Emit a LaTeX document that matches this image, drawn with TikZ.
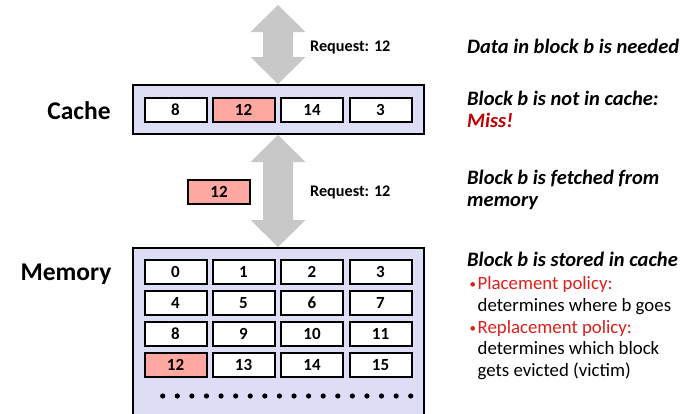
\documentclass[tikz,border=0pt]{standalone}
\usepackage{fontspec}
\setmainfont{Carlito}
\definecolor{boxfill}{RGB}{221,221,245}
\definecolor{hitred}{RGB}{255,168,162}
\definecolor{arrowgray}{RGB}{200,200,200}
\definecolor{polred}{RGB}{222,32,26}
\definecolor{missred}{RGB}{192,0,0}
\tikzset{
  cell/.style={draw, line width=2pt, fill=white, minimum width=62pt, minimum height=24pt, inner sep=0pt, font=\bfseries\fontsize{17}{17}\selectfont},
  hitcell/.style={cell, fill=hitred},
  container/.style={draw, line width=2pt, fill=boxfill},
  biglabel/.style={font=\bfseries\fontsize{25.5}{25.5}\selectfont},
  reqlabel/.style={anchor=west, inner sep=0pt, font=\bfseries\fontsize{16.2}{16.2}\selectfont},
  step text/.style={anchor=base west, inner sep=0pt, font=\bfseries\itshape\fontsize{20.5}{20.5}\selectfont},
  plain text/.style={anchor=base west, inner sep=0pt, font=\fontsize{18.8}{18.8}\selectfont},
  bigarrow/.style={fill=arrowgray, draw=none}
}
\begin{document}
\begin{tikzpicture}[x=1pt,y=-1pt]
\clip (0,0) rectangle (685,413);
\fill[white] (0,0) rectangle (685,413);
% containers
\draw[container] (132.7,85) rectangle (424,134);
\draw[container] (132.7,247.7) rectangle (424,440);
% arrows
\coordinate (a1t) at (278,5);
\coordinate (a1b) at (278,84);
\fill[bigarrow] (a1t) -- ++(27.5,27) -- ++(-12.5,0) -- (293,57) -- ++(12.5,0) -- (a1b) -- ++(-27.5,-27) -- ++(12.5,0) -- (263,32) -- ++(-12.5,0) -- cycle;
\coordinate (a2t) at (278,135);
\coordinate (a2b) at (278,247);
\fill[bigarrow] (a2t) -- ++(27.5,27) -- ++(-12.5,0) -- (293,220) -- ++(12.5,0) -- (a2b) -- ++(-27.5,-27) -- ++(12.5,0) -- (263,162) -- ++(-12.5,0) -- cycle;
% cache cells
\node[cell] (c0) at (175.5,110) {8};
\node[hitcell] (c1) at (243.5,110) {12};
\node[cell] (c2) at (312,110) {14};
\node[cell] (c3) at (380.5,110) {3};
% fetched block
\node[hitcell] (fetched) at (219,191.5) {12};
% memory cells
\foreach \r/\y in {0/272,1/303,2/334,3/364.7}{
  \foreach \c/\x in {0/175.5,1/243.5,2/312,3/380.5}{
    \pgfmathtruncatemacro{\n}{4*\r+\c}
    \ifnum\n=12
      \node[hitcell] (m\n) at (\x,\y) {\n};
    \else
      \node[cell] (m\n) at (\x,\y) {\n};
    \fi
  }
}
% dots
\foreach \i in {0,...,17}{
  \fill (162.7+14.59*\i,396) circle (2.6pt);
}
% labels
\node[biglabel] (cachelbl) at (79,111) {Cache};
\node[biglabel] (memlbl) at (66,274) {Memory};
\node[reqlabel] (req1) at (310,47) {Request: 12};
\node[reqlabel] (req2) at (310,192) {Request: 12};
% right text
\node[step text] (t1) at (467,53) {Data in block b is needed};
\node[step text] (t2) at (467,105) {Block b is not in cache:};
\node[step text, text=missred] (t2b) at (467,127) {Miss!};
\node[step text] (t3) at (467,184) {Block b is fetched from};
\node[step text] (t3b) at (467,206) {memory};
\node[step text] (t4) at (467,266) {Block b is stored in cache};
\node[plain text, text=polred, font=\fontsize{13}{13}\selectfont] (b1) at (469.5,288) {•};
\node[plain text, text=polred] (p1) at (477.5,289) {Placement policy:};
\node[plain text] (p1b) at (477.5,311) {determines where b goes};
\node[plain text, text=polred, font=\fontsize{13}{13}\selectfont] (b2) at (469.5,332) {•};
\node[plain text, text=polred] (p2) at (477.5,333) {Replacement policy:};
\node[plain text] (p2b) at (477.5,354) {determines which block};
\node[plain text] (p2c) at (477.5,376) {gets evicted (victim)};
\end{tikzpicture}
\end{document}
